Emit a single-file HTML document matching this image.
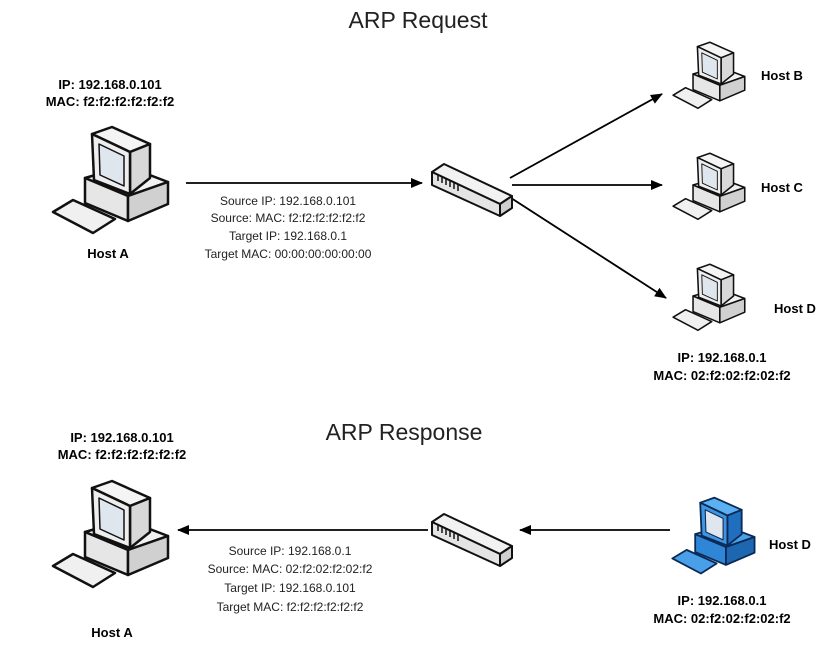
<!DOCTYPE html>
<html><head><style>
body{margin:0;background:#fff;}
svg{display:block;font-family:"Liberation Sans",sans-serif;}
.b{font-weight:bold;font-size:13px;fill:#000;}
.s{font-size:12px;fill:#222;}
.t{font-size:23px;fill:#222;}
</style></head><body>
<svg width="838" height="651" viewBox="0 0 838 651">
<defs>
<marker id="ah" markerWidth="12" markerHeight="10" refX="11" refY="5" orient="auto" markerUnits="userSpaceOnUse">
<path d="M0,0 L12,5 L0,10 Z" fill="#000"/></marker>
<symbol id="pc" viewBox="0 0 130 120">
<g stroke="#111" stroke-width="2.5" stroke-linejoin="round">
<polygon points="45,56 88,74 128,60 86,44" fill="#f2f2f2"/>
<polygon points="45,56 88,74 88,99 45,81" fill="#e6e6e6"/>
<polygon points="88,74 128,60 128,82 88,99" fill="#d0d0d0"/>
<polygon points="52,12 72,5 110,22 90,30" fill="#f4f4f4"/>
<polygon points="90,30 110,22 110,56 90,72" fill="#d8d8d8"/>
<polygon points="52,12 90,30 90,72 54,58" fill="#eeeeee"/>
<polygon points="59,22 84,34 84,64 60,53" fill="#dfe6ee" stroke-width="1.5"/>
<polygon points="13,90 33,78 75,97 53,111" fill="#f0f0f0"/>
</g>
</symbol>
<symbol id="pcb" viewBox="0 0 130 120">
<g stroke="#0a2a55" stroke-width="2.5" stroke-linejoin="round">
<polygon points="45,56 88,74 128,60 86,44" fill="#4aa0e8"/>
<polygon points="45,56 88,74 88,99 45,81" fill="#2f86d6"/>
<polygon points="88,74 128,60 128,82 88,99" fill="#1d66b0"/>
<polygon points="52,12 72,5 110,22 90,30" fill="#5ab0f0"/>
<polygon points="90,30 110,22 110,56 90,72" fill="#1f6fbe"/>
<polygon points="52,12 90,30 90,72 54,58" fill="#3f95e0"/>
<polygon points="59,22 84,34 84,64 60,53" fill="#dfe6ee" stroke-width="1.5"/>
<polygon points="13,90 33,78 75,97 53,111" fill="#4aa0e8"/>
</g>
</symbol>
<symbol id="sw" viewBox="0 0 84 60">
<g stroke="#111" stroke-width="2" stroke-linejoin="round">
<polygon points="2,14 14,6 82,38 70,46" fill="#f2f2f2"/>
<polygon points="2,14 70,46 70,58 2,27" fill="#e4e4e4"/>
<polygon points="70,46 82,38 82,50 70,58" fill="#cfcfcf"/>
<g stroke-width="1.5"><line x1="8" y1="17" x2="8" y2="23"/><line x1="12" y1="19" x2="12" y2="25"/><line x1="16" y1="21" x2="16" y2="27"/><line x1="20" y1="23" x2="20" y2="29"/><line x1="24" y1="25" x2="24" y2="31"/><line x1="28" y1="27" x2="28" y2="33"/></g>
</g>
</symbol>
</defs>

<text class="t" x="418" y="28" text-anchor="middle">ARP Request</text>
<text class="b" x="110" y="89" text-anchor="middle">IP: 192.168.0.101</text>
<text class="b" x="110" y="106" text-anchor="middle">MAC: f2:f2:f2:f2:f2:f2</text>
<use href="#pc" x="40" y="122" width="130" height="120"/>
<text class="b" x="108" y="258" text-anchor="middle">Host A</text>

<g stroke="#000" stroke-width="1.8" fill="none">
<line x1="186" y1="183" x2="422" y2="183" marker-end="url(#ah)"/>
<line x1="510" y1="178" x2="662" y2="94" marker-end="url(#ah)"/>
<line x1="512" y1="185" x2="662" y2="185" marker-end="url(#ah)"/>
<line x1="508" y1="196" x2="666" y2="298" marker-end="url(#ah)"/>
<line x1="670" y1="530" x2="520" y2="530" marker-end="url(#ah)"/>
<line x1="428" y1="530" x2="178" y2="530" marker-end="url(#ah)"/>
</g>
<text class="s" x="288" y="205" text-anchor="middle">Source IP: 192.168.0.101</text>
<text class="s" x="288" y="222" text-anchor="middle">Source: MAC: f2:f2:f2:f2:f2:f2</text>
<text class="s" x="288" y="240" text-anchor="middle">Target IP: 192.168.0.1</text>
<text class="s" x="288" y="258" text-anchor="middle">Target MAC: 00:00:00:00:00:00</text>

<use href="#sw" x="430" y="158" width="84" height="60"/>

<use href="#pc" x="665" y="39" width="81" height="75"/>
<text class="b" x="782" y="80" text-anchor="middle">Host B</text>
<use href="#pc" x="665" y="150" width="81" height="75"/>
<text class="b" x="782" y="192" text-anchor="middle">Host C</text>
<use href="#pc" x="665" y="261" width="81" height="75"/>
<text class="b" x="795" y="313" text-anchor="middle">Host D</text>
<text class="b" x="722" y="362" text-anchor="middle">IP: 192.168.0.1</text>
<text class="b" x="722" y="380" text-anchor="middle">MAC: 02:f2:02:f2:02:f2</text>

<text class="t" x="404" y="440" text-anchor="middle">ARP Response</text>
<text class="b" x="122" y="442" text-anchor="middle">IP: 192.168.0.101</text>
<text class="b" x="122" y="459" text-anchor="middle">MAC: f2:f2:f2:f2:f2:f2</text>
<use href="#pc" x="40" y="476" width="130" height="120"/>
<text class="b" x="112" y="637" text-anchor="middle">Host A</text>

<text class="s" x="290" y="555" text-anchor="middle">Source IP: 192.168.0.1</text>
<text class="s" x="290" y="573" text-anchor="middle">Source: MAC: 02:f2:02:f2:02:f2</text>
<text class="s" x="290" y="592" text-anchor="middle">Target IP: 192.168.0.101</text>
<text class="s" x="290" y="611" text-anchor="middle">Target MAC:  f2:f2:f2:f2:f2:f2</text>

<use href="#sw" x="430" y="508" width="84" height="60"/>

<use href="#pcb" x="663" y="494" width="93" height="86"/>
<text class="b" x="790" y="549" text-anchor="middle">Host D</text>
<text class="b" x="722" y="605" text-anchor="middle">IP: 192.168.0.1</text>
<text class="b" x="722" y="623" text-anchor="middle">MAC: 02:f2:02:f2:02:f2</text>
</svg>
</body></html>
